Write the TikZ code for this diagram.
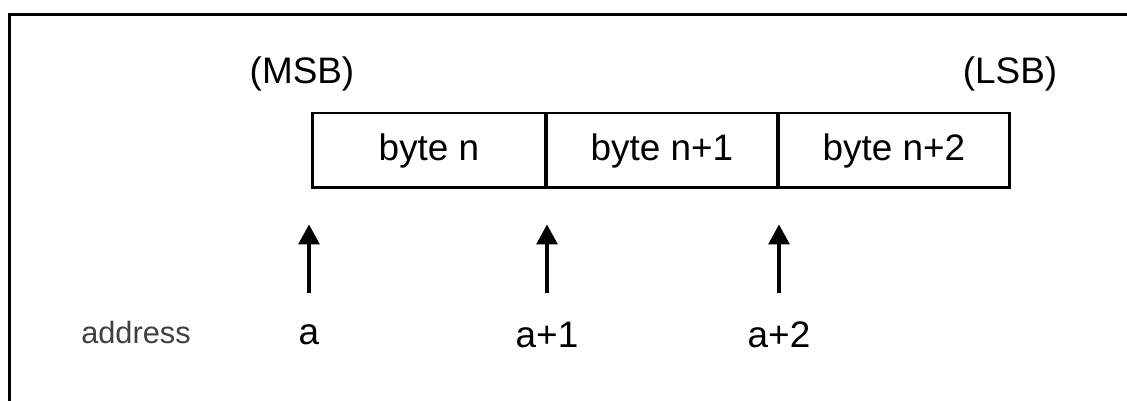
\documentclass[tikz,border=0pt]{standalone}
\usepackage{fontspec}
\setmainfont{Liberation Sans}
\usetikzlibrary{arrows.meta}
\begin{document}
\begin{tikzpicture}[x=0.02cm, y=-0.02cm, >={Triangle[length=0.4cm,width=0.42cm]},
        cell/.style={draw, line width=1.7pt, minimum height=1.5cm, inner sep=0pt, font=\fontsize{21}{24}\selectfont},
        lbl/.style={inner sep=0pt, font=\fontsize{21}{24}\selectfont},
        ptr/.style={->, line width=1.9pt, shorten <=0.84cm, shorten >=0.7cm}]
        \useasboundingbox (0,0) rectangle (1127,401);
        \draw [line width=2pt] (9.5,401)--(9.5,14.5)--(1127,14.5);
        \node [cell, minimum width=4.68cm] (c0) at (429,150.5) {byte n};
        \node [cell, minimum width=4.64cm] (c1) at (662,150.5) {byte n+1};
        \node [cell, minimum width=4.64cm] (c2) at (894,150.5) {byte n+2};
        \node [lbl] (msb) at (302,74) {(MSB)};
        \node [lbl] (lsb) at (1010,74) {(LSB)};
        \node [lbl, font=\fontsize{17.5}{20}\selectfont, text=black!75] (adr) at (136,333) {address};
        \foreach \x/\t/\n in {309/a/0, 547/a+1/1, 779/a+2/2}
        {
            \node [lbl] (adr\n) at (\x,335) {\t};
            \draw [ptr] (adr\n.center)--(adr\n.center |- c0.south);
        }
\end{tikzpicture}
\end{document}
